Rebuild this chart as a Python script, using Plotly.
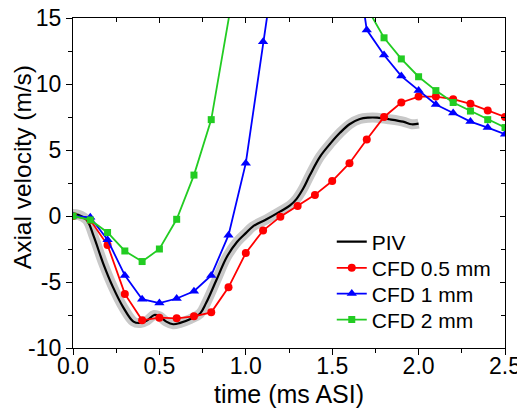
import plotly.graph_objects as go

# CFD time samples (ms ASI)
t_cfd = [0.0, 0.1, 0.2, 0.3, 0.4, 0.5, 0.6, 0.7, 0.8, 0.9, 1.0, 1.1, 1.2,
         1.3, 1.4, 1.5, 1.6, 1.7, 1.8, 1.9, 2.0, 2.1, 2.2, 2.3, 2.4, 2.5]

cfd_05 = [0.0, -0.3, -2.2, -5.9, -7.9, -7.7, -7.75, -7.6, -7.3, -5.4, -2.8, -1.1, -0.05,
          0.75, 1.6, 2.65, 4.0, 5.8, 7.5, 8.6, 9.05, 9.05, 8.85, 8.5, 8.0, 7.5]
cfd_1 = [0.0, -0.1, -1.8, -4.5, -6.3, -6.6, -6.25, -5.7, -4.5, -1.45, 4.0, 13.2, 22.0,
         28.0, 30.0, 28.0, 23.0, 14.1, 12.2, 10.6, 9.5, 8.45, 7.8, 7.15, 6.7, 6.2]
cfd_2 = [0.0, -0.3, -1.25, -2.65, -3.45, -2.5, -0.25, 3.1, 7.3, 15.6, 24.0, 30.0, 33.0,
         33.0, 31.0, 27.0, 22.0, 15.8, 13.5, 11.9, 10.55, 9.5, 8.6, 7.95, 7.3, 6.7]

# PIV measurement
t_piv = [0.0, 0.03, 0.08, 0.12, 0.175, 0.23, 0.29, 0.35, 0.39, 0.43, 0.47, 0.5, 0.54,
         0.58, 0.62, 0.68, 0.735, 0.77, 0.83, 0.89, 0.95, 1.0, 1.04, 1.12, 1.2, 1.256,
         1.294, 1.333, 1.371, 1.43, 1.49, 1.545, 1.6, 1.66, 1.71, 1.76, 1.83, 1.91, 1.96, 2.0]
piv = [0.15, 0.1, -0.3, -1.55, -3.6, -5.35, -6.9, -8.0, -8.1, -7.9, -7.5, -7.6, -8.0,
       -8.2, -8.1, -7.8, -7.4, -6.6, -4.85, -3.1, -1.95, -1.3, -0.8, -0.25, 0.35, 0.8,
       1.3, 2.1, 3.1, 4.5, 5.5, 6.3, 6.95, 7.35, 7.45, 7.45, 7.33, 7.15, 6.95, 7.0]

x_ticks = [0.0, 0.5, 1.0, 1.5, 2.0, 2.5]
x_labels = ["0.0", "0.5", "1.0", "1.5", "2.0", "2.5"]
x_minor = [0.25, 0.75, 1.25, 1.75, 2.25]
y_ticks = [-10, -5, 0, 5, 10, 15]
y_labels = ["-10", "-5", "0", "5", "10", "15"]
y_minor = [-7.5, -2.5, 2.5, 7.5, 12.5]

FONT = "Liberation Sans, Arial, sans-serif"

fig = go.Figure()

# PIV uncertainty band (grey halo) and mean line
fig.add_trace(go.Scatter(x=t_piv, y=piv, mode="lines", line=dict(color="#c8c8c8", width=10, shape="spline"),
                         showlegend=False, hoverinfo="skip"))
fig.add_trace(go.Scatter(x=t_piv, y=piv, mode="lines", name="PIV", legend="legend",
                         line=dict(color="black", width=2.2, shape="spline")))

fig.add_trace(go.Scatter(x=t_cfd, y=cfd_05, mode="lines+markers", name="CFD 0.5 mm", legend="legend2",
                         line=dict(color="#ff0000", width=1.8),
                         marker=dict(symbol="circle", size=8, color="#ff0000")))
# twin axes: right y axis and top x axis carry the inside ticks
fig.add_trace(go.Scatter(x=t_cfd, y=cfd_1, mode="lines+markers", name="CFD 1 mm", legend="legend3",
                         yaxis="y2",
                         line=dict(color="#0000ff", width=1.8),
                         marker=dict(symbol="triangle-up", size=9, color="#0000ff")))
fig.add_trace(go.Scatter(x=t_cfd, y=cfd_2, mode="lines+markers", name="CFD 2 mm", legend="legend4",
                         xaxis="x2",
                         line=dict(color="#22cc22", width=1.8),
                         marker=dict(symbol="square", size=7, color="#22cc22")))

axis_common = dict(showgrid=False, zeroline=False, showline=True, linecolor="black", linewidth=1.2,
                   tickcolor="black", automargin=False, ticklabeloverflow="allow",
                   tickfont=dict(family=FONT, size=23, color="black"))

leg = dict(xanchor="left", yanchor="middle", bgcolor="rgba(0,0,0,0)", font=dict(family=FONT, size=21))
leg_x = 0.599

fig.update_layout(
    width=525, height=408,
    margin=dict(l=65, r=28, t=10, b=68),
    paper_bgcolor="white", plot_bgcolor="white",
    font=dict(family=FONT, size=21, color="black"),
    xaxis=dict(range=[0, 2.5], tickvals=x_ticks, ticktext=x_labels, ticks="outside", ticklen=6, mirror=True,
               ticklabelstandoff=-9,
               minor=dict(ticks="outside", ticklen=4, tickvals=x_minor, tickcolor="black"),
               **axis_common),
    yaxis=dict(range=[-10, 15], tickvals=y_ticks, ticktext=y_labels, ticks="outside", ticklen=6, mirror=True,
               minor=dict(ticks="outside", ticklen=4, tickvals=y_minor, tickcolor="black"),
               **axis_common),
    xaxis2=dict(overlaying="x", anchor="y", side="top", range=[0, 2.5], tickvals=x_ticks, ticks="inside",
                ticklen=5, showticklabels=False,
                minor=dict(ticks="inside", ticklen=4, tickvals=x_minor, tickcolor="black"),
                **axis_common),
    yaxis2=dict(overlaying="y", anchor="x", side="right", range=[-10, 15], tickvals=y_ticks, ticks="inside",
                ticklen=5, showticklabels=False,
                minor=dict(ticks="inside", ticklen=4, tickvals=y_minor, tickcolor="black"),
                **axis_common),
    legend=dict(x=leg_x, y=0.321, **leg),
    legend2=dict(x=leg_x, y=0.242, **leg),
    legend3=dict(x=leg_x, y=0.164, **leg),
    legend4=dict(x=leg_x, y=0.085, **leg),
    annotations=[
        dict(text="Axial velocity (m/s)", textangle=-90, xref="paper", yref="paper",
             x=-0.118, y=0.548, xanchor="center", yanchor="middle", showarrow=False,
             font=dict(family=FONT, size=24.5, color="black")),
        dict(text="time (ms ASI)", xref="paper", yref="paper",
             x=0.5, y=-0.139, xanchor="center", yanchor="middle", showarrow=False,
             font=dict(family=FONT, size=25, color="black")),
    ],
)

fig.write_html("out.html")
